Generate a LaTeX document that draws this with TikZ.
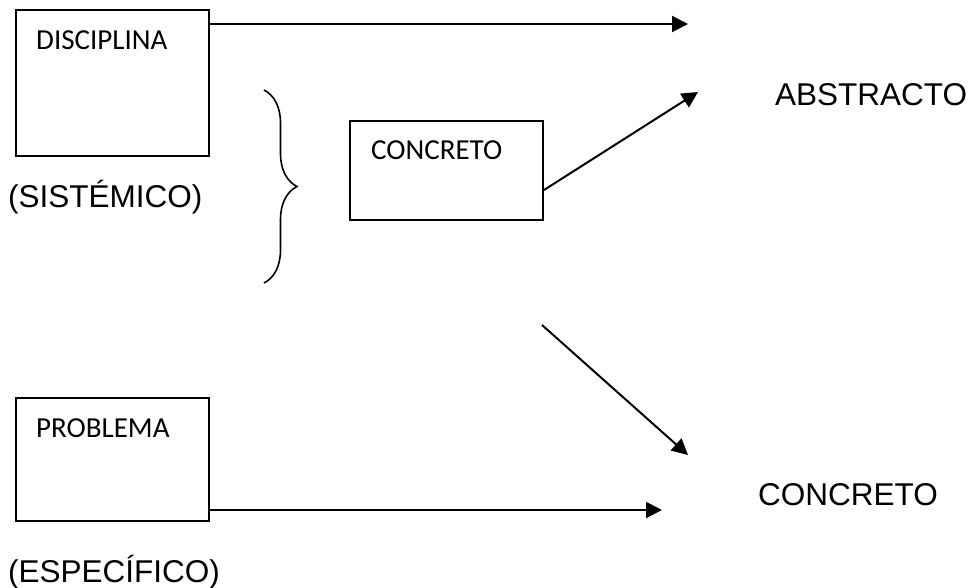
\documentclass[tikz,border=0pt]{standalone}
\usepackage{fontspec}
\setmainfont{Liberation Sans}
\newfontfamily\kastenfont{Carlito}
\usepackage{tikz}
\usetikzlibrary{arrows.meta,decorations.pathreplacing}

\begin{document}
\begin{tikzpicture}[x=1pt,y=-1pt]
			\tikzstyle{every node}=[inner sep=0pt]
			\tikzstyle{kasten}=[draw,line width=2pt,rectangle,minimum width=193pt]
			\tikzstyle{kastentext}=[anchor=base west,font=\kastenfont\fontsize{29}{34}\selectfont]
			\tikzstyle{ergebnis}=[anchor=base west,font=\fontsize{31.5}{36}\selectfont]
			\tikzstyle{pfeil}=[line width=2pt,-{Triangle[length=16pt,width=16pt]}]
			\useasboundingbox (0,0) rectangle (974,587);
			
			%Kästen
			\node[kasten,minimum height=146pt] (disc) at (112.5,83) {};
			\node[kasten,minimum height=99pt] (conc) at (446.5,170.5) {};
			\node[kasten,minimum height=123pt] (prob) at (112.5,459.5) {};
			\node[kastentext] (tdisc) at ([xshift=21pt,yshift=-40pt]disc.north west) {DISCIPLINA};
			\node[kastentext] (tconc) at ([xshift=22pt,yshift=-39pt]conc.north west) {CONCRETO};
			\node[kastentext] (tprob) at ([xshift=21pt,yshift=-40pt]prob.north west) {PROBLEMA};
			
			%Texte
			\node[ergebnis] (sist) at (8,207) {(SISTÉMICO)};
			\node[ergebnis] (espe) at (8,582) {(ESPECÍFICO)};
			\node[ergebnis] (abst) at (775,105) {ABSTRACTO};
			\node[ergebnis] (conc2) at (758,505) {CONCRETO};
			
			%Klammer
			\draw[line width=1.6pt,decorate,decoration={brace,amplitude=33pt}] (264,90) -- (264,283);
			
			%Pfeile
			\coordinate (p1) at (688,24);
			\coordinate (p2) at (698,92);
			\coordinate (p3a) at (542,325);
			\coordinate (p3) at (688,455);
			\coordinate (p4) at (662,510);
			\draw[pfeil] (disc.east |- p1) -- (p1);
			\draw[pfeil] ([yshift=-19.5pt]conc.east) -- (p2);
			\draw[pfeil] (p3a) -- (p3);
			\draw[pfeil] (prob.east |- p4) -- (p4);
			
\end{tikzpicture}
\end{document}
